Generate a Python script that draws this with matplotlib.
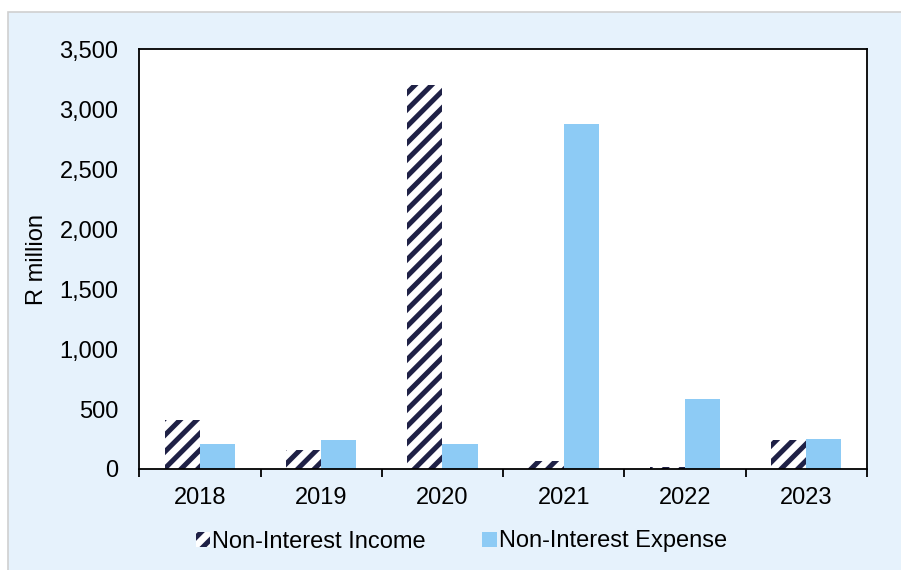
import matplotlib
matplotlib.use('Agg')
import numpy as np
import matplotlib.pyplot as plt
from matplotlib.patches import Rectangle

plt.rcParams['font.family'] = ['Liberation Sans', 'DejaVu Sans']
plt.rcParams['hatch.linewidth'] = 3.6

years = ['2018', '2019', '2020', '2021', '2022', '2023']
income = [410, 160, 3200, 70, 20, 240]
expense = [210, 240, 210, 2880, 580, 250]

navy = '#1F2146'
blue = '#8DCBF5'
bg = '#E6F2FC'

fig = plt.figure(figsize=(9.01, 5.70), dpi=100)
fig.patch.set_facecolor('white')
fig.add_artist(Rectangle((8 / 901, -0.1), 1.1, 1.1 - 12 / 570, transform=fig.transFigure,
                         facecolor=bg, edgecolor='#D0D0D0', linewidth=1.2, zorder=0))

ax = fig.add_axes([0.1546, 0.1772, 0.962 - 0.1546, 0.9135 - 0.1772])
ax.set_facecolor('white')

x = np.arange(len(years))
w = 0.29
ax.bar(x - w / 2, income, w, facecolor='white', edgecolor=navy, hatch='//',
       linewidth=0, label='Non-Interest Income')
ax.bar(x + w / 2, expense, w, color=blue, linewidth=0, label='Non-Interest Expense')

fs = 17
ax.set_xlim(-0.5, len(years) - 0.5)
ax.set_ylim(0, 3500)
ax.set_yticks(np.arange(0, 3501, 500))
ax.set_yticklabels([f'{v:,}' for v in range(0, 3501, 500)], fontsize=fs)
ax.set_xticks(x)
ax.set_xticklabels(years, fontsize=fs)
ax.set_xticks(np.arange(-0.5, len(years)), minor=True)
ax.tick_params(axis='x', which='major', length=0, pad=13)
ax.tick_params(axis='x', which='minor', length=6, width=1.3, direction='out')
ax.tick_params(axis='y', length=0, pad=15)
for s in ax.spines.values():
    s.set_linewidth(1.3)
    s.set_color('black')

ax.set_ylabel('R million', fontsize=fs, labelpad=8)

fig.legend(loc='center', bbox_to_anchor=(0.512, 0.05), ncol=2, frameon=False,
           fontsize=fs, handlelength=0.6, handleheight=0.6, handletextpad=0.1,
           columnspacing=2.4)

fig.savefig('out.png', dpi=100, facecolor=fig.get_facecolor())
